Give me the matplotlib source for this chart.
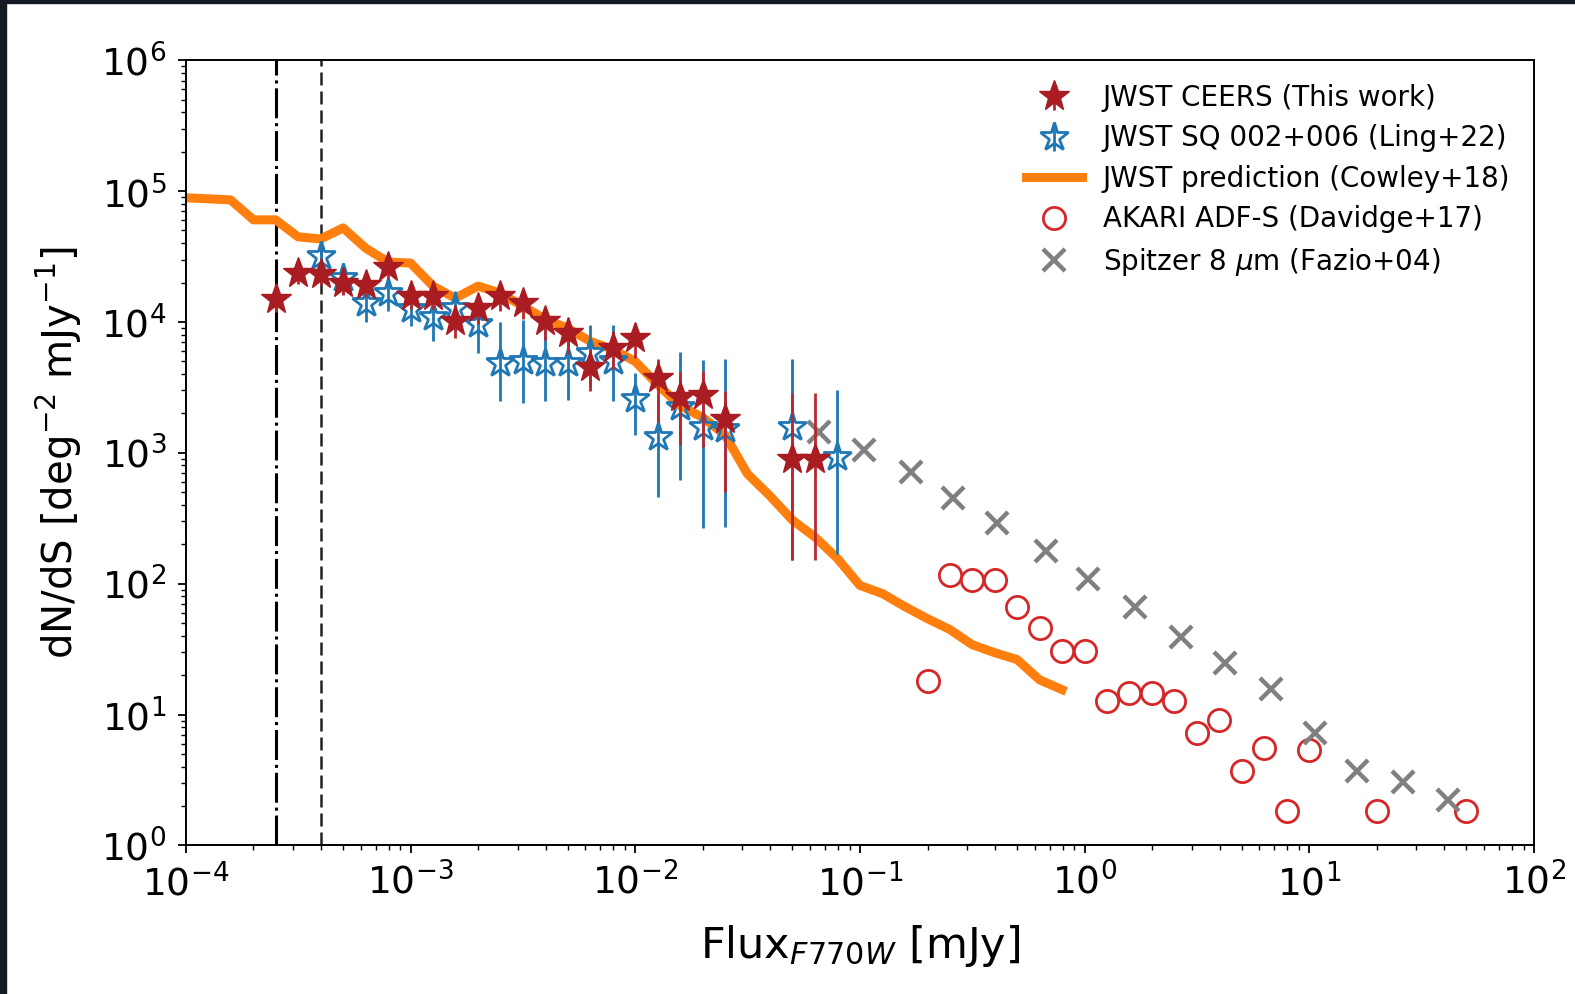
import numpy as np
import matplotlib
matplotlib.use("Agg")
import matplotlib.pyplot as plt
from matplotlib.patches import Rectangle
from matplotlib.ticker import NullFormatter

# ---- data ----
# JWST CEERS (this work)
ceers_x = [2.51e-4, 3.16e-4, 3.98e-4, 5.01e-4, 6.31e-4, 7.94e-4, 1.00e-3, 1.26e-3,
           1.58e-3, 2.00e-3, 2.51e-3, 3.16e-3, 3.98e-3, 5.01e-3, 6.31e-3, 7.94e-3,
           1.00e-2, 1.26e-2, 1.58e-2, 2.00e-2, 2.51e-2, 5.01e-2, 6.31e-2]
ceers_y = [1.49e4, 2.36e4, 2.32e4, 1.98e4, 1.91e4, 2.62e4, 1.57e4, 1.57e4,
           1.01e4, 1.27e4, 1.57e4, 1.39e4, 1.01e4, 8.18e3, 4.49e3, 6.28e3,
           7.50e3, 3.70e3, 2.69e3, 2.79e3, 1.82e3, 9.0e2, 9.0e2]
# error bar extents in dex (down, up)
ceers_dn = [0.10, 0.08, 0.08, 0.09, 0.09, 0.09, 0.10, 0.10, 0.13, 0.12, 0.11, 0.12,
            0.14, 0.16, 0.18, 0.16, 0.15, 0.33, 0.37, 0.40, 0.56, 0.77, 0.77]
ceers_up = [0.08, 0.07, 0.07, 0.07, 0.08, 0.08, 0.08, 0.09, 0.10, 0.10, 0.09, 0.10,
            0.11, 0.12, 0.14, 0.13, 0.12, 0.15, 0.19, 0.18, 0.21, 0.50, 0.50]

# JWST SQ 002+006 (Ling+22)
ling_x = [3.98e-4, 5.01e-4, 6.31e-4, 7.94e-4, 1.00e-3, 1.26e-3, 1.58e-3, 2.00e-3,
          2.51e-3, 3.16e-3, 3.98e-3, 5.01e-3, 6.31e-3, 7.94e-3, 1.00e-2, 1.26e-2,
          1.58e-2, 2.00e-2, 2.51e-2, 5.01e-2, 7.94e-2]
ling_y = [3.19e4, 2.16e4, 1.39e4, 1.66e4, 1.25e4, 1.10e4, 1.27e4, 9.6e3,
          4.82e3, 4.99e3, 4.82e3, 4.82e3, 5.75e3, 4.99e3, 2.59e3, 1.33e3,
          2.25e3, 1.58e3, 1.53e3, 1.58e3, 9.3e2]
ling_dn = [0.10, 0.12, 0.14, 0.14, 0.13, 0.19, 0.17, 0.22, 0.29, 0.32, 0.29,
           0.28, 0.25, 0.30, 0.28, 0.46, 0.56, 0.77, 0.75, 1.02, 0.74]
ling_up = [0.08, 0.10, 0.11, 0.11, 0.11, 0.14, 0.13, 0.16, 0.32, 0.32, 0.32,
           0.32, 0.22, 0.28, 0.20, 0.30, 0.42, 0.51, 0.53, 0.52, 0.51]

# JWST prediction (Cowley+18)
cowley_x = [1.00e-4, 1.26e-4, 1.58e-4, 2.00e-4, 2.51e-4, 3.16e-4, 3.98e-4, 5.01e-4,
            6.31e-4, 7.94e-4, 1.00e-3, 1.26e-3, 1.58e-3, 2.00e-3, 2.51e-3, 3.16e-3,
            3.98e-3, 5.01e-3, 6.31e-3, 7.94e-3, 1.00e-2, 1.26e-2, 1.58e-2, 2.00e-2,
            2.51e-2, 3.16e-2, 3.98e-2, 5.01e-2, 6.31e-2, 7.94e-2, 0.100, 0.126,
            0.158, 0.200, 0.251, 0.316, 0.398, 0.501, 0.631, 0.794]
cowley_y = [8.89e4, 8.73e4, 8.57e4, 6.03e4, 6.03e4, 4.47e4, 4.31e4, 5.23e4,
            3.67e4, 2.87e4, 2.82e4, 1.88e4, 1.52e4, 1.88e4, 1.66e4, 1.32e4,
            1.05e4, 8.93e3, 7.11e3, 6.17e3, 4.99e3, 3.32e3, 2.30e3, 1.86e3,
            1.37e3, 6.9e2, 4.68e2, 3.06e2, 2.27e2, 1.56e2, 97, 84,
            67, 54, 44.7, 34.2, 29.7, 26.3, 18.4, 15.5]

# AKARI ADF-S (Davidge+17)
akari_x = [0.200, 0.251, 0.316, 0.398, 0.501, 0.631, 0.794, 1.00, 1.26, 1.58,
           2.00, 2.51, 3.16, 3.98, 5.01, 6.31, 7.94, 10.0, 20.0, 50.1]
akari_y = [18.1, 116, 106, 106, 65.8, 46.2, 30.8, 30.8, 12.7, 14.7,
           14.7, 12.7, 7.23, 9.1, 3.70, 5.55, 1.82, 5.36, 1.82, 1.82]

# Spitzer 8 um (Fazio+04)
fazio_x = [0.0656, 0.104, 0.169, 0.261, 0.409, 0.671, 1.04, 1.68, 2.70, 4.20,
           6.75, 10.6, 16.3, 26.2, 41.3]
fazio_y = [1449, 1054, 715, 452, 290, 177, 108, 65.8, 39.4, 24.9,
           15.7, 7.23, 3.70, 3.04, 2.21]

# completeness limits
limit_dashdot = 2.52e-4
limit_dashed = 4.0e-4


def asym_err(y, dn, up):
    y = np.array(y)
    return [y - y * 10 ** (-np.array(dn)), y * 10 ** np.array(up) - y]


fig = plt.figure(figsize=(15.75, 9.94), dpi=100)
ax = fig.add_axes([0.1180, 0.1495, 0.8559, 0.7899])

ax.axvline(limit_dashdot, color="k", lw=2.2, ls=(0, (9.8, 1.6, 1.0, 1.6)), zorder=1)
ax.axvline(limit_dashed, color="#222222", lw=1.8, ls=(0, (5.2, 2.4)), zorder=1)

h_cowley, = ax.plot(cowley_x, cowley_y, color="#ff7f0e", lw=6.5, zorder=2,
                    label="JWST prediction (Cowley+18)")
h_akari, = ax.plot(akari_x, akari_y, "o", ms=16, mfc="none", mec="#d62728", mew=2,
                   zorder=3, label="AKARI ADF-S (Davidge+17)")
h_fazio, = ax.plot(fazio_x, fazio_y, "x", ms=16, color="#808080", mew=3.2,
                   zorder=4, label=r"Spitzer 8 $\mu$m (Fazio+04)")
h_ling = ax.errorbar(ling_x, ling_y, yerr=asym_err(ling_y, ling_dn, ling_up),
                     fmt="*", ms=21, mfc="none", mec="#1f77b4", mew=2,
                     ecolor="#1f77b4", elinewidth=2, zorder=5,
                     label="JWST SQ 002+006 (Ling+22)")
h_ceers = ax.errorbar(ceers_x, ceers_y, yerr=asym_err(ceers_y, ceers_dn, ceers_up),
                      fmt="*", ms=23, color="#a81c22", ecolor="#b8282e",
                      elinewidth=2, zorder=6, label="JWST CEERS (This work)")

ax.set_xscale("log")
ax.set_yscale("log")
ax.set_xlim(1e-4, 1e2)
ax.set_ylim(1, 1e6)
ax.xaxis.set_minor_formatter(NullFormatter())
ax.yaxis.set_minor_formatter(NullFormatter())

ax.tick_params(which="major", length=6, width=1.3, labelsize=27)
ax.tick_params(axis="x", which="major", pad=7)
ax.tick_params(axis="y", which="major", pad=8)
ax.tick_params(which="minor", length=3.5, width=1.0)
for s in ax.spines.values():
    s.set_linewidth(1.4)

ax.set_xlabel(r"Flux$_{F770W}$ [mJy]", fontsize=31, labelpad=14)
ax.set_ylabel(r"dN/dS [deg$^{-2}$ mJy$^{-1}$]", fontsize=29, labelpad=12)

ax.legend([h_ceers, h_ling, h_cowley, h_akari, h_fazio],
          ["JWST CEERS (This work)", "JWST SQ 002+006 (Ling+22)",
           "JWST prediction (Cowley+18)", "AKARI ADF-S (Davidge+17)",
           r"Spitzer 8 $\mu$m (Fazio+04)"],
          loc="upper right", frameon=False, fontsize=20,
          labelspacing=0.45, handletextpad=0.75, borderaxespad=0.45)

# dark slide border visible at the top and left of the screenshot
fig.patches.append(Rectangle((0, 1 - 3 / 994), 1, 3 / 994, transform=fig.transFigure,
                             color="#141b24", zorder=10))
fig.patches.append(Rectangle((0, 0), 6 / 1575, 1, transform=fig.transFigure,
                             color="#141b24", zorder=10))

fig.savefig("out.png", dpi=100)
